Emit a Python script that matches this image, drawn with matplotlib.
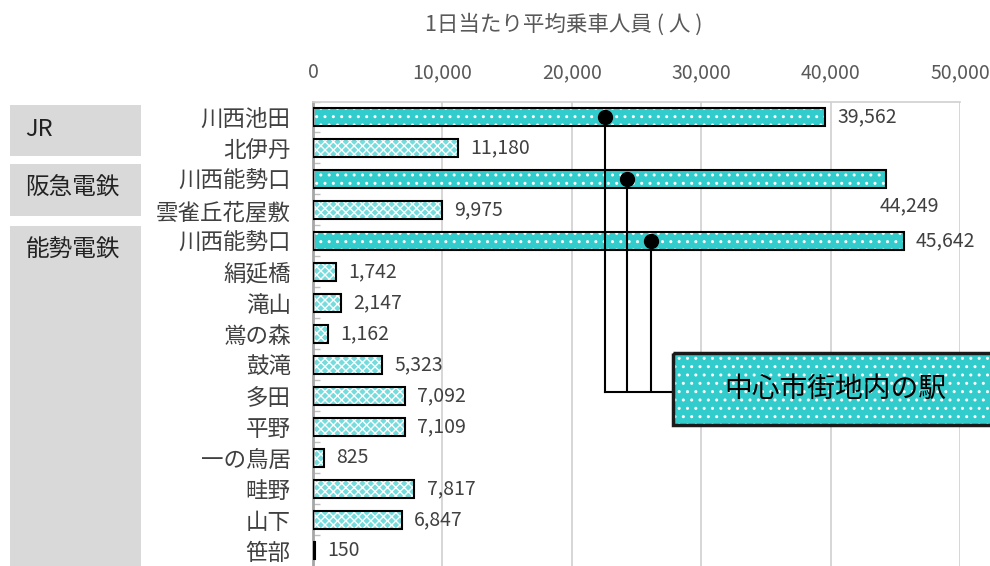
import matplotlib.pyplot as plt
import matplotlib.transforms as mtransforms
from matplotlib.patches import Rectangle

plt.rcParams['font.family'] = ['Noto Sans CJK JP', 'DejaVu Sans']
plt.rcParams['hatch.linewidth'] = 1.0

# データ
stations = ['川西池田', '北伊丹', '川西能勢口', '雲雀丘花屋敷', '川西能勢口', '絹延橋', '滝山',
            '鴬の森', '鼓滝', '多田', '平野', '一の鳥居', '畦野', '山下', '笹部']
riders = [39562, 11180, 44249, 9975, 45642, 1742, 2147, 1162, 5323, 7092, 7109, 825, 7817, 6847, 150]
central = [True, False, True, False, True, False, False, False, False, False, False, False, False, False, False]
central_marks = [22566, 24266, 26120]   # 黒丸の位置
groups = ['JR', '阪急電鉄', '能勢電鉄']
group_rows = [(-0.39, 1.26), (1.52, 3.19), (3.52, 15.0)]
group_text_rows = [0.42, 2.29, 4.29]
xticks = [0, 10000, 20000, 30000, 40000, 50000]

teal = '#33CCCC'
light = '#74dcdc'
gray_txt = '#595959'

fig = plt.figure(figsize=(9.9, 5.66), dpi=100)
ax = fig.add_axes([313 / 990, 0, (960 - 313) / 990, (566 - 101.5) / 566])

rows = list(range(len(stations)))
h = 0.58
for i, v, c in zip(rows, riders, central):
    if c:
        ax.barh(i, v, height=h, color=teal, edgecolor='white', hatch='..', lw=0, zorder=2)
    else:
        ax.barh(i, v, height=h, color=light, edgecolor='white', hatch='xxxx', lw=0, zorder=2)
    ax.barh(i, v, height=h, fill=False, edgecolor='black', lw=1.5, zorder=3)

# 数値ラベル
for i, v in zip(rows, riders):
    if i == 2:
        ax.annotate(f'{v:,}', (v, i), xytext=(-4, -19), textcoords='offset points',
                    ha='left', va='center', fontsize=14, color='#404040')
    else:
        ax.annotate(f'{v:,}', (v, i), xytext=(9, 0), textcoords='offset points',
                    ha='left', va='center', fontsize=14, color='#404040')

# 中心市街地内の駅
central_rows = [i for i, c in zip(rows, central) if c]
line_ends = [8.87, 8.81, 8.81]
box_left = 27800
for x, r, e in zip(central_marks, central_rows, line_ends):
    ax.plot([x, x], [r, e], color='black', lw=1.5, zorder=4)
ax.plot([central_marks[0], box_left], [8.87, 8.87], color='black', lw=1.5, zorder=4)
ax.plot(central_marks, central_rows, 'o', color='black', ms=10, zorder=5)
box = Rectangle((box_left, 7.61), 30000, 2.33, facecolor=teal, edgecolor='white', hatch='..',
                lw=0, clip_on=False, zorder=6)
ax.add_patch(box)
ax.add_patch(Rectangle((box_left, 7.61), 30000, 2.33, fill=False, edgecolor='#1a1a1a', lw=2.5,
                       clip_on=False, zorder=7))
ax.text(40340, 8.77, '中心市街地内の駅', ha='center', va='center', fontsize=20, color='black', zorder=8)

ax.set_xlim(0, 50000)
ax.set_ylim(14.5, -0.5)
ax.xaxis.tick_top()
ax.set_xticks(xticks)
ax.set_xticklabels([f'{t:,}' for t in xticks])
ax.tick_params(axis='x', length=0, pad=13, labelsize=14, labelcolor=gray_txt)
ax.set_yticks(rows)
ax.set_yticklabels(stations)
ax.tick_params(axis='y', length=0, pad=16, labelsize=16.2, labelcolor='#404040')
ax.set_yticks([r + 0.5 for r in rows[:-1]] + [-0.5 + 0.0], minor=True)
ax.tick_params(axis='y', which='minor', direction='in', length=5, color='#bfbfbf', width=1)
ax.grid(axis='x', color='#d0d0d0', lw=1.2, zorder=0)
ax.set_axisbelow(True)
for s in ['right', 'bottom']:
    ax.spines[s].set_visible(False)
ax.spines['left'].set_color('#a6a6a6')
ax.spines['left'].set_linewidth(2)
ax.spines['top'].set_color('#d0d0d0')
ax.spines['top'].set_linewidth(1.2)

fig.text(564 / 990, 1 - 25 / 566, '1日当たり平均乗車人員 ( 人 )', ha='center', va='center',
         fontsize=15.5, color=gray_txt)

# 会社グループ
trans = mtransforms.blended_transform_factory(fig.transFigure, ax.transData)
for g, (r0, r1), ty in zip(groups, group_rows, group_text_rows):
    fig.patches.append(Rectangle((10 / 990, r0), 131 / 990, r1 - r0, transform=trans,
                                 facecolor='#d9d9d9', edgecolor='none'))
    fig.text(25 / 990, ty, g, transform=trans, ha='left', va='center', fontsize=17, color='#222222')

fig.savefig('out.png', dpi=100)
